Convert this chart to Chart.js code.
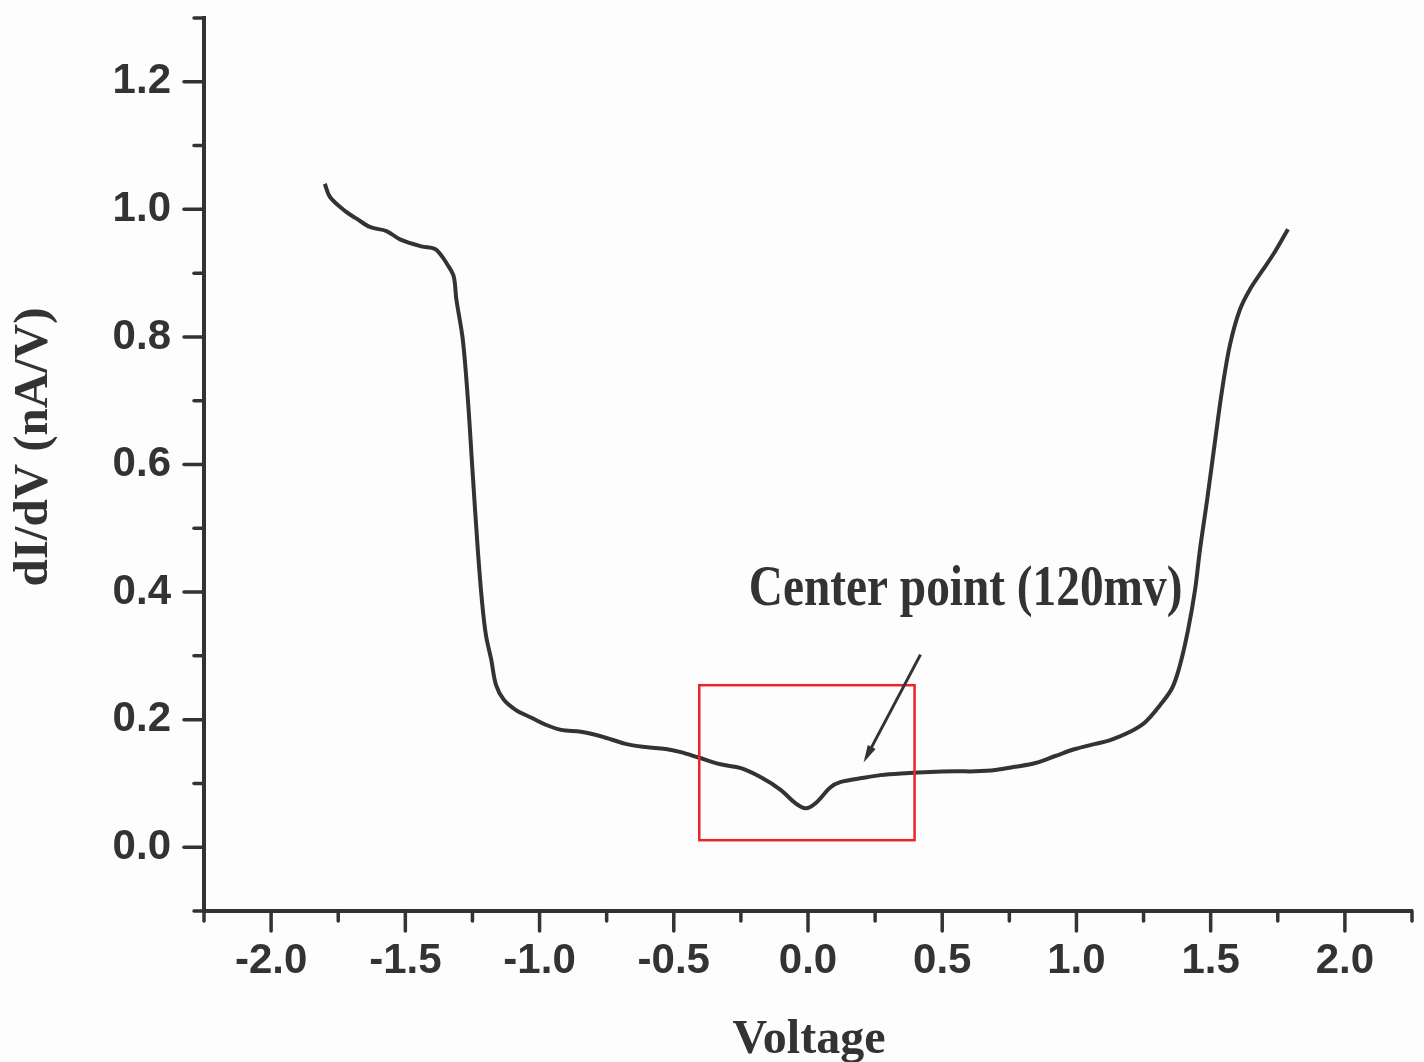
<!DOCTYPE html>
<html>
<head>
<meta charset="utf-8">
<script src="https://cdn.jsdelivr.net/npm/chart.js@4.4.0/dist/chart.umd.min.js"></script>
<style>
  html, body { margin: 0; padding: 0; background: #fdfdfd; }
  #wrap { width: 1424px; height: 1062px; }
</style>
</head>
<body>
<div id="wrap"><canvas id="didv" width="1424" height="1062"></canvas></div>
<script>
// voltage (V) and dI/dV (nA/V)
var volts = [-1.80, -1.78, -1.72, -1.68, -1.63, -1.57, -1.52, -1.44, -1.39, -1.37, -1.344, -1.32, -1.31,
    -1.286, -1.267, -1.25, -1.23, -1.215, -1.20, -1.18, -1.162, -1.133, -1.088, -1.03, -0.977, -0.92,
    -0.846, -0.772, -0.679, -0.605, -0.53, -0.474, -0.411, -0.326, -0.25, -0.177, -0.102, -0.047,
    -0.009, 0.028, 0.084, 0.12, 0.195, 0.27, 0.363, 0.456, 0.549, 0.623, 0.698, 0.772, 0.847, 0.921,
    0.995, 1.07, 1.126, 1.20, 1.256, 1.312, 1.357, 1.386, 1.416, 1.442, 1.46, 1.487, 1.517, 1.543,
    1.572, 1.609, 1.647, 1.691, 1.74, 1.788]
var didv = [1.04, 1.019, 0.996, 0.985, 0.972, 0.966, 0.953, 0.942, 0.938, 0.93, 0.914, 0.895, 0.859,
    0.796, 0.702, 0.592, 0.466, 0.388, 0.333, 0.294, 0.254, 0.231, 0.215, 0.203, 0.192, 0.184,
    0.181, 0.174, 0.162, 0.157, 0.154, 0.149, 0.141, 0.130, 0.124, 0.110, 0.090, 0.069,
    0.061, 0.069, 0.094, 0.102, 0.108, 0.113, 0.116, 0.118, 0.119, 0.119, 0.121, 0.126, 0.132, 0.143,
    0.154, 0.162, 0.168, 0.181, 0.196, 0.223, 0.250, 0.286, 0.341, 0.404, 0.466, 0.545, 0.639, 0.718,
    0.788, 0.843, 0.875, 0.903, 0.934, 0.969]

var xMajor = [-2.0, -1.5, -1.0, -0.5, 0.0, 0.5, 1.0, 1.5, 2.0]
var xMinor = [-2.25, -1.75, -1.25, -0.75, -0.25, 0.25, 0.75, 1.25, 1.75, 2.25]
var yMajor = [0.0, 0.2, 0.4, 0.6, 0.8, 1.0, 1.2]
var yMinor = [-0.1, 0.1, 0.3, 0.5, 0.7, 0.9, 1.1, 1.3]

// red box around the dip, arrow and its label (data coords)
var boxX = [-0.405, 0.397]
var boxY = [0.011, 0.254]
var arrowFrom = [0.419, 0.302]
var arrowTo = [0.207, 0.133]
var noteText = "Center point (120mv)"
var notePos = [0.587, 0.402]

var ink = "#333333"

var points = []
for (var i = 0; i < volts.length; i++) {
    points.push({x: volts[i], y: didv[i]})
}

var extras = {
    id: "extras",
    afterDraw: function(chart){
        var ctx = chart.ctx
        var xs = chart.scales.x
        var ys = chart.scales.y
        var area = chart.chartArea
        ctx.save()

        // tick marks, outward
        ctx.strokeStyle = ink
        ctx.lineWidth = 3.5
        ctx.lineCap = "round"
        function tickX(v, len){
            var px = xs.getPixelForValue(v)
            ctx.beginPath()
            ctx.moveTo(px, area.bottom)
            ctx.lineTo(px, area.bottom + len)
            ctx.stroke()
        }
        function tickY(v, len){
            var py = ys.getPixelForValue(v)
            ctx.beginPath()
            ctx.moveTo(area.left, py)
            ctx.lineTo(area.left - len, py)
            ctx.stroke()
        }
        xMajor.forEach(function(v){ tickX(v, 20) })
        xMinor.forEach(function(v){ tickX(v, 10) })
        yMajor.forEach(function(v){ tickY(v, 20) })
        yMinor.forEach(function(v){ tickY(v, 10) })

        // red box
        ctx.strokeStyle = "#e8262a"
        ctx.lineWidth = 2.5
        ctx.lineCap = "butt"
        var bx1 = xs.getPixelForValue(boxX[0]), bx2 = xs.getPixelForValue(boxX[1])
        var by1 = ys.getPixelForValue(boxY[1]), by2 = ys.getPixelForValue(boxY[0])
        ctx.strokeRect(bx1, by1, bx2 - bx1, by2 - by1)

        // arrow
        var ax1 = xs.getPixelForValue(arrowFrom[0]), ay1 = ys.getPixelForValue(arrowFrom[1])
        var ax2 = xs.getPixelForValue(arrowTo[0]), ay2 = ys.getPixelForValue(arrowTo[1])
        var ang = Math.atan2(ay2 - ay1, ax2 - ax1)
        var head = 18
        ctx.strokeStyle = ink
        ctx.fillStyle = ink
        ctx.lineWidth = 3
        ctx.beginPath()
        ctx.moveTo(ax1, ay1)
        ctx.lineTo(ax2 - Math.cos(ang) * head * 0.8, ay2 - Math.sin(ang) * head * 0.8)
        ctx.stroke()
        ctx.beginPath()
        ctx.moveTo(ax2, ay2)
        ctx.lineTo(ax2 - head * Math.cos(ang - 0.25), ay2 - head * Math.sin(ang - 0.25))
        ctx.lineTo(ax2 - head * Math.cos(ang + 0.25), ay2 - head * Math.sin(ang + 0.25))
        ctx.closePath()
        ctx.fill()

        // annotation text (tall, slightly condensed like the original)
        ctx.save()
        ctx.font = "bold 56px 'Liberation Serif', 'Times New Roman', serif"
        ctx.textAlign = "center"
        ctx.textBaseline = "middle"
        ctx.translate(xs.getPixelForValue(notePos[0]), ys.getPixelForValue(notePos[1]))
        ctx.scale(0.845, 1)
        ctx.fillText(noteText, 0, 0)
        ctx.restore()

        // axis titles
        ctx.textAlign = "center"
        ctx.font = "bold 48px 'Liberation Serif', 'Times New Roman', serif"
        ctx.textBaseline = "alphabetic"
        ctx.fillText("Voltage", (xs.left + xs.right) / 2 + 1, 1053)

        ctx.font = "bold 49px 'Liberation Serif', 'Times New Roman', serif"
        ctx.textBaseline = "middle"
        ctx.translate(34, 447)
        ctx.rotate(-Math.PI / 2)
        ctx.fillText("dI/dV (nA/V)", 0, 0)

        ctx.restore()
    }
}

var ctx = document.getElementById("didv")

var chart = new Chart(ctx, {
    type: "line",
    data: {
        datasets: [{
            label: "dI/dV",
            data: points,
            borderColor: ink,
            borderWidth: 4,
            pointRadius: 0,
            tension: 0.35,
            fill: false
        }]
    },
    plugins: [extras],
    options: {
        responsive: false,
        animation: false,
        layout: {
            padding: {top: 18, right: 12, left: 0, bottom: 0}
        },
        plugins: {
            legend: {display: false},
            tooltip: {enabled: false}
        },
        scales: {
            x: {
                type: "linear",
                min: -2.25,
                max: 2.25,
                afterBuildTicks: function(scale){
                    scale.ticks = xMajor.map(function(v){ return {value: v} })
                },
                afterFit: function(scale){
                    scale.height = 151
                    scale.paddingLeft = 0
                    scale.paddingRight = 0
                },
                grid: {display: false, drawTicks: false},
                border: {display: true, color: ink, width: 4},
                ticks: {
                    color: ink,
                    padding: 25,
                    maxRotation: 0,
                    autoSkip: false,
                    font: {family: "'Liberation Sans', Arial, sans-serif", size: 42, weight: "bold"},
                    callback: function(v){ return v.toFixed(1) }
                }
            },
            y: {
                min: -0.1,
                max: 1.3,
                afterBuildTicks: function(scale){
                    scale.ticks = yMajor.map(function(v){ return {value: v} })
                },
                afterFit: function(scale){
                    scale.width = 204
                    scale.paddingTop = 0
                    scale.paddingBottom = 0
                },
                grid: {display: false, drawTicks: false},
                border: {display: true, color: ink, width: 4},
                ticks: {
                    color: ink,
                    padding: 33,
                    autoSkip: false,
                    font: {family: "'Liberation Sans', Arial, sans-serif", size: 42, weight: "bold"},
                    callback: function(v){ return v.toFixed(1) }
                }
            }
        }
    }
})
</script>
</body>
</html>
